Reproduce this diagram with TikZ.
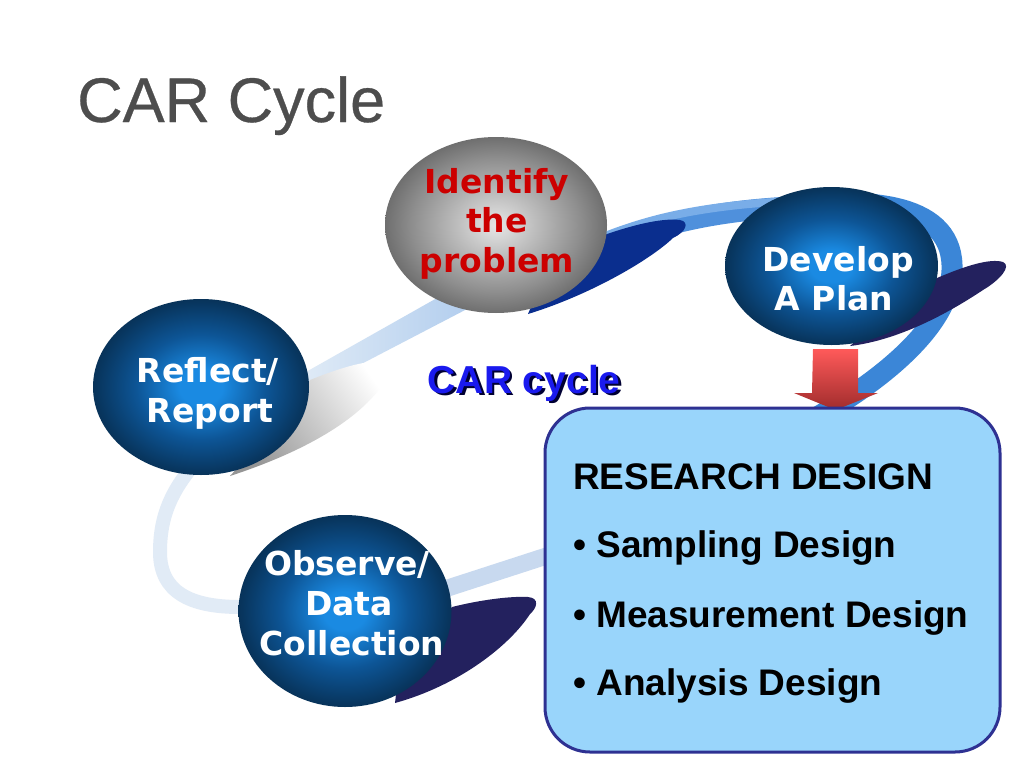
\documentclass[tikz,border=0pt]{standalone}
\usepackage{fontspec}
\setmainfont{Liberation Sans}
\newfontfamily\vfont{DejaVu Sans}
\newfontfamily\titlefont{Liberation Sans}[FakeBold=0.5]
\usetikzlibrary{shapes.geometric}
\definecolor{titlegray}{HTML}{4D4D4D}
\definecolor{bb1}{HTML}{1A8AE2}
\definecolor{bb2}{HTML}{0D5596}
\definecolor{bb3}{HTML}{08365F}
\definecolor{bb4}{HTML}{06243F}
\definecolor{gb1}{HTML}{E6E6E6}
\definecolor{gb2}{HTML}{CFCFCF}
\definecolor{gb3}{HTML}{8E8E8E}
\definecolor{gb4}{HTML}{555555}
\definecolor{ribA}{HTML}{C8D9EF}
\definecolor{ribB}{HTML}{E1EBF6}
\definecolor{ribCL}{HTML}{E3EDF7}
\definecolor{ribCR}{HTML}{B3CEEE}
\definecolor{ribD}{HTML}{4F90DC}
\definecolor{ribDh}{HTML}{79ADE8}
\definecolor{ribE}{HTML}{3B86D7}
\definecolor{tailblue}{HTML}{0A2E8E}
\definecolor{tailnavy}{HTML}{23215E}
\definecolor{tailgray}{HTML}{959595}
\definecolor{probred}{HTML}{CC0000}
\definecolor{arrtopc}{HTML}{FF5A5A}
\definecolor{arrbotc}{HTML}{A02C2C}
\definecolor{boxfill}{HTML}{99D5FB}
\definecolor{boxline}{HTML}{2E3192}
\definecolor{carblue}{HTML}{1A1AEE}
\definecolor{carshadow}{HTML}{000033}
\pgfdeclareradialshading{blueballsh}{\pgfpoint{0bp}{0bp}}{color(0bp)=(bb1); color(5bp)=(bb1); color(15bp)=(bb2); color(24bp)=(bb3); color(30bp)=(bb4); color(50bp)=(bb4)}
\pgfdeclareradialshading{grayballsh}{\pgfpoint{0bp}{0bp}}{color(0bp)=(gb1); color(5bp)=(gb2); color(19bp)=(gb3); color(30bp)=(gb4); color(50bp)=(gb4)}
\tikzset{
  ball/.style={ellipse, inner sep=0pt, shade},
  blueball/.style={ball, shading=blueballsh},
  grayball/.style={ball, shading=grayballsh},
  balltext/.style={font=\vfont\bfseries\fontsize{33}{40}\selectfont, text=white, anchor=base, inner sep=0pt},
  boxtext/.style={font=\bfseries\fontsize{37}{44}\selectfont, anchor=base west, inner sep=0pt, text=black},
  ribbon/.style={line cap=butt},
}
\begin{document}
\begin{tikzpicture}[x=1pt,y=-1pt]
\useasboundingbox (0,0) rectangle (1024,768);
\fill[white] (0,0) rectangle (1024,768);

% title
\node[anchor=base west, inner sep=0pt, text=titlegray, font=\titlefont\fontsize{63}{70}\selectfont] (title) at (77,122) {CAR Cycle};

% ribbon of the cycle
\draw[ribbon, ribA, line width=17pt] (400,603.5) -- (565,550);
\draw[ribbon, ribB, line width=14pt] (290,607) -- (240,607) .. controls (190,607) and (160,592) .. (160,552) .. controls (160,515) and (172,490) .. (196,462);
\shade[left color=ribCL, right color=ribCR] (290,381) -- (460,285) -- (467,309) -- (298,397) -- cycle;
\draw[ribbon, ribD, line width=21pt] (560,266) .. controls (640,228) and (700,212) .. (790,207);
\draw[ribbon, ribDh, line width=8pt, yshift=6pt] (600,244) .. controls (650,224) and (700,212) .. (790,207);
\draw[ribbon, ribE, line width=21pt] (788,207.2) .. controls (860,198) and (950,200) .. (952,265) .. controls (954,315) and (900,370) .. (812,420);

% tails
\shade[left color=white, right color=tailgray, shading angle=-55] (300,400) -- (310,380) .. controls (340,368) and (370,358) .. (393,362) .. controls (385,395) and (340,440) .. (230,476) -- cycle;
\fill[tailblue] (560,250) -- (610,233) .. controls (640,223) and (665,218) .. (680,220) .. controls (690,222) and (686,232) .. (673,238) .. controls (650,260) and (590,295) .. (528,314) -- (540,285) -- cycle;
\fill[tailnavy] (900,290) -- (937,278) .. controls (965,266) and (990,258) .. (1003,262) .. controls (1012,266) and (1000,280) .. (983,290) .. controls (950,312) and (900,340) .. (850,346) -- (880,320) -- cycle;
\fill[tailnavy] (440,620) -- (452,607) .. controls (480,600) and (510,596) .. (528,597) .. controls (540,598) and (537,608) .. (530,614) .. controls (510,645) and (460,685) .. (395,703) -- (400,660) -- cycle;

% balls
\node[grayball, minimum width=222pt, minimum height=176pt] (identify) at (496,225) {};
\node[blueball, minimum width=213pt, minimum height=158pt] (plan) at (831.5,266) {};
\node[blueball, minimum width=216pt, minimum height=176pt] (reflect) at (201,387) {};
\node[blueball, minimum width=213pt, minimum height=192pt] (observe) at (345,611) {};

\node[balltext, text=probred] (id1) at (497,193) {Identify};
\node[balltext, text=probred] (id2) at (497,232) {the};
\node[balltext, text=probred] (id3) at (497,272) {problem};
\node[balltext] (pl1) at (838,271) {Develop};
\node[balltext] (pl2) at (834,310) {A Plan};
\node[balltext] (re1) at (208,382) {Reflect/};
\node[balltext] (re2) at (210,422) {Report};
\node[balltext] (ob1) at (347,575) {Observe/};
\node[balltext] (ob2) at (349,615) {Data};
\node[balltext] (ob3) at (352,655) {Collection};

% block arrow from the plan to the design
\coordinate (arrtop) at (835.5,349);
\shade[top color=arrtopc, bottom color=arrbotc] (arrtop) ++(-22.5,0) -- ++(45,0) -- ++(0,44) -- ++(20,0) -- ++(-42.5,17) -- ++(-41.5,-17) -- ++(18,0) -- cycle;

% research design box
\node[draw=boxline, line width=3pt, fill=boxfill, rounded corners=45pt, minimum width=455pt, minimum height=344pt, inner sep=0pt] (design) at (772.5,580) {};
\node[boxtext] (rd0) at (573,489) {RESEARCH DESIGN};
\node[boxtext] (rd1) at (573,557) {• Sampling Design};
\node[boxtext] (rd2) at (573,627) {• Measurement Design};
\node[boxtext] (rd3) at (573,695) {• Analysis Design};

% CAR cycle label with its shadow
\node[anchor=base west, inner sep=0pt, font=\bfseries\fontsize{39}{45}\selectfont] (carlabel) at (427.5,393) {\rlap{\hspace*{2.5pt}\raisebox{-2.5pt}{\textcolor{carshadow}{CAR cycle}}}\textcolor{carblue}{CAR cycle}};
\end{tikzpicture}
\end{document}
